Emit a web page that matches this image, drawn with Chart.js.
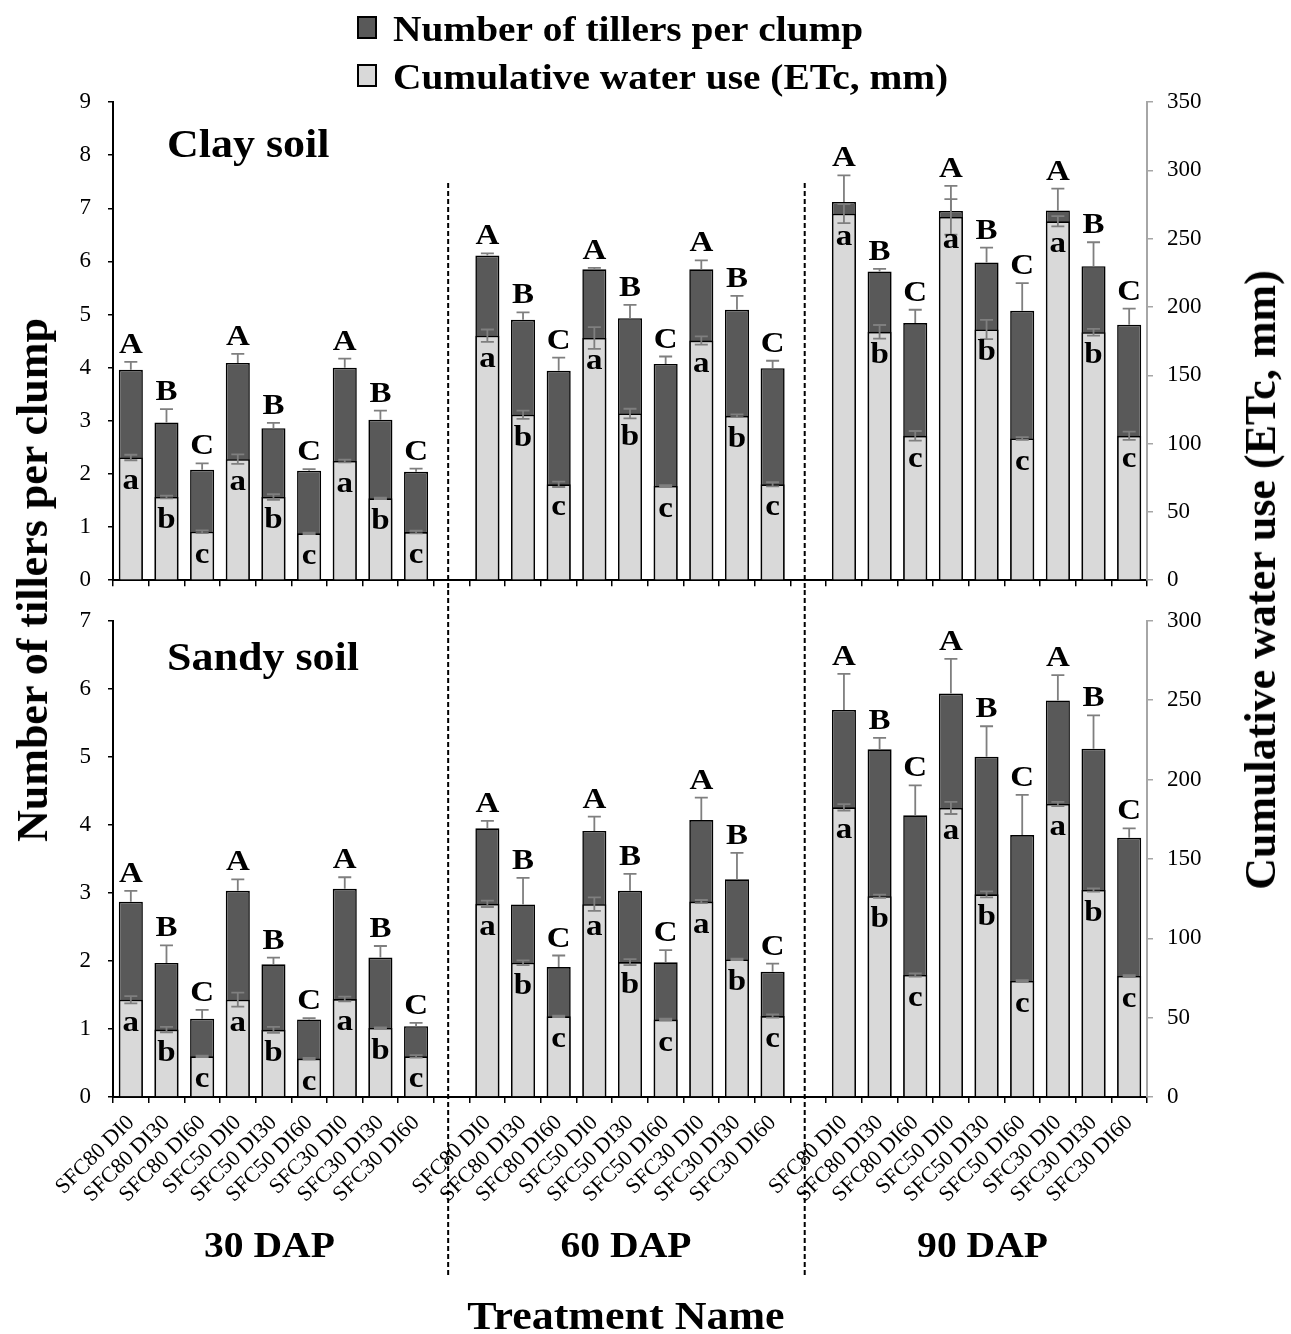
<!DOCTYPE html>
<html>
<head>
<meta charset="utf-8">
<script src="https://cdn.jsdelivr.net/npm/chart.js@4.4.1/dist/chart.umd.min.js"></script>
<style>
  html, body { margin: 0; padding: 0; background: #fff; }
  #wrap { position: relative; width: 1291px; height: 1334px; overflow: hidden; }
  canvas { position: absolute; left: 0; }
  .vt { position: absolute; white-space: nowrap; font-family: "Liberation Serif", "Times New Roman", serif;
        font-weight: bold; font-size: 44px; color: #000; transform: translate(-50%, -50%) rotate(-90deg); line-height: 1; }
</style>
</head>
<body>
<div id="wrap">
  <canvas id="botChart" width="1291" height="744" style="top:590px"></canvas>
  <canvas id="topChart" width="1291" height="611" style="top:0"></canvas>
  <div class="vt" style="left:33px; top:580px;">Number of tillers per clump</div>
  <div class="vt" style="left:1261px; top:580px;">Cumulative water use (ETc, mm)</div>
</div>
<script>
// ---------------- DATA ----------------
const treatments = ['SFC80 DI0','SFC80 DI30','SFC80 DI60','SFC50 DI0','SFC50 DI30','SFC50 DI60','SFC30 DI0','SFC30 DI30','SFC30 DI60'];
const stages = ['30 DAP','60 DAP','90 DAP'];
const tillerLetters = ['A','B','C','A','B','C','A','B','C'];
const waterLetters  = ['a','b','c','a','b','c','a','b','c'];

// Clay soil
const clayTillers30 = [3.96, 2.97, 2.08, 4.09, 2.86, 2.06, 4.00, 3.02, 2.04];
const clayTillers60 = [6.11, 4.90, 3.94, 5.85, 4.93, 4.07, 5.85, 5.09, 3.99];
const clayTillers90 = [7.12, 5.81, 4.84, 6.95, 5.98, 5.07, 6.96, 5.91, 4.81];
const clayTillersErr30 = [0.15, 0.25, 0.12, 0.17, 0.10, 0.03, 0.17, 0.17, 0.06];
const clayTillersErr60 = [0.04, 0.14, 0.25, 0.03, 0.25, 0.14, 0.17, 0.26, 0.14];
const clayTillersErr90 = [0.50, 0.05, 0.25, 0.47, 0.28, 0.52, 0.41, 0.45, 0.30];
const clayWater30 = [89.8, 60.9, 35.5, 88.6, 60.9, 34.3, 87.3, 59.9, 35.2];
const clayWater60 = [179.0, 121.1, 70.2, 177.3, 122.0, 69.0, 175.4, 120.3, 70.2];
const clayWater90 = [268.3, 181.8, 105.7, 265.9, 183.5, 103.7, 262.7, 181.5, 105.7];
const clayWaterErr30 = [2.0, 1.0, 1.0, 3.5, 2.0, 0.5, 1.0, 0.5, 1.0];
const clayWaterErr60 = [4.5, 3.0, 2.0, 8.0, 3.5, 0.5, 3.0, 1.0, 1.5];
const clayWaterErr90 = [7.0, 5.0, 3.5, 13.0, 7.0, 1.0, 3.7, 2.5, 3.0];

// Sandy soil
const sandyTillers30 = [2.87, 1.97, 1.15, 3.03, 1.95, 1.14, 3.06, 2.05, 1.04];
const sandyTillers60 = [3.95, 2.83, 1.91, 3.91, 3.03, 1.98, 4.07, 3.20, 1.84];
const sandyTillers90 = [5.69, 5.11, 4.14, 5.93, 5.00, 3.85, 5.83, 5.12, 3.81];
const sandyTillersErr30 = [0.16, 0.26, 0.13, 0.17, 0.10, 0.02, 0.17, 0.17, 0.05];
const sandyTillersErr60 = [0.11, 0.39, 0.17, 0.21, 0.25, 0.18, 0.33, 0.39, 0.12];
const sandyTillersErr90 = [0.53, 0.17, 0.44, 0.51, 0.45, 0.59, 0.37, 0.49, 0.14];
const sandyWater30 = [61.3, 42.5, 25.6, 61.3, 42.3, 24.2, 61.7, 43.5, 25.6];
const sandyWater60 = [121.7, 84.6, 50.8, 121.5, 85.0, 48.8, 123.1, 86.7, 51.0];
const sandyWater90 = [182.5, 126.5, 76.9, 182.1, 127.7, 73.1, 184.6, 130.4, 76.3];
const sandyWaterErr30 = [2.3, 1.7, 0.5, 4.4, 1.9, 0.5, 1.5, 0.3, 0.8];
const sandyWaterErr60 = [2.0, 1.5, 0.5, 4.2, 1.9, 0.5, 1.0, 0.5, 1.0];
const sandyWaterErr90 = [2.0, 1.0, 1.0, 3.8, 1.9, 0.5, 1.3, 1.0, 0.5];

// Axis ranges / ticks
const clayTillerAxis = { min: 0, max: 9, step: 1 };
const clayWaterAxis  = { min: 0, max: 350, step: 50 };
const sandyTillerAxis = { min: 0, max: 7, step: 1 };
const sandyWaterAxis  = { min: 0, max: 300, step: 50 };

// ---------------- BUILD ----------------
const join3 = (a, b, c) => [...a, null, ...b, null, ...c];
const categories = [...treatments, '', ...treatments, '', ...treatments];
const upperLetters = join3(tillerLetters, tillerLetters, tillerLetters);
const lowerLetters = join3(waterLetters, waterLetters, waterLetters);
const gapIndices = [9, 19];
const stageCenters = [4, 14, 24];

const SERIF = '"Liberation Serif", "Times New Roman", serif';
const DARK = '#595959', LIGHT = '#d9d9d9', ERRC = '#7f7f7f';

function stretchText(ctx, s, x, y, size, align, sx) {
  ctx.save();
  ctx.font = 'bold ' + size + 'px ' + SERIF;
  ctx.textAlign = align || 'left';
  ctx.textBaseline = 'alphabetic';
  ctx.fillStyle = '#000';
  ctx.translate(x, y);
  ctx.scale(sx || 1.1, 1);
  ctx.fillText(s, 0, 0);
  ctx.restore();
}

function panelPlugin(p) {
  return {
    id: 'panel' + p.key,
    afterDatasetDraw(chart, args) {
      const ds = chart.data.datasets[args.index];
      const meta = args.meta;
      const ys = chart.scales[meta.yAxisID];
      const ctx = chart.ctx;
      ctx.save();
      ctx.strokeStyle = ERRC;
      ctx.lineWidth = 1.8;
      meta.data.forEach((el, i) => {
        const v = ds.data[i];
        if (v == null) return;
        const e = ds.errs[i];
        const yTop = ys.getPixelForValue(v + e);
        const yBot = ds.errBoth ? ys.getPixelForValue(v - e) : el.y;
        ctx.beginPath();
        ctx.moveTo(el.x, yTop); ctx.lineTo(el.x, yBot);
        ctx.moveTo(el.x - 6.5, yTop); ctx.lineTo(el.x + 6.5, yTop);
        if (ds.errBoth) { ctx.moveTo(el.x - 6.5, yBot); ctx.lineTo(el.x + 6.5, yBot); }
        ctx.stroke();
      });
      ctx.restore();
    },
    afterDatasetsDraw(chart) {
      const ctx = chart.ctx;
      const light = chart.data.datasets[0], dark = chart.data.datasets[1];
      const mL = chart.getDatasetMeta(0), mD = chart.getDatasetMeta(1);
      const yD = chart.scales.y;
      mD.data.forEach((el, i) => {
        const v = dark.data[i];
        if (v == null) return;
        stretchText(ctx, upperLetters[i], el.x, yD.getPixelForValue(v + dark.errs[i]) - 9, 30, 'center', 1.1);
      });
      mL.data.forEach((el, i) => {
        const v = light.data[i];
        if (v == null) return;
        stretchText(ctx, lowerLetters[i], el.x, el.y + 31, 30, 'center', 1.1);
      });
    },
    afterDraw(chart) {
      const ctx = chart.ctx;
      const xs = chart.scales.x;
      const ca = chart.chartArea;
      // dashed separators
      ctx.save();
      ctx.strokeStyle = '#000';
      ctx.lineWidth = 2;
      ctx.setLineDash([5, 3]);
      gapIndices.forEach(g => {
        const x = xs.getPixelForValue(g - 0.1);
        ctx.beginPath();
        ctx.moveTo(x, p.dashTop);
        ctx.lineTo(x, p.dashBottom);
        ctx.stroke();
      });
      ctx.restore();
      // panel title
      stretchText(ctx, p.title, ca.left + 54, ca.top + p.titleDy, 40, 'left', 1.1);
      if (p.legend) {
        const rows = [
          { fill: DARK, text: 'Number of tillers per clump', base: 41 },
          { fill: LIGHT, text: 'Cumulative water use (ETc, mm)', base: 89 }
        ];
        rows.forEach(r => {
          ctx.save();
          ctx.fillStyle = r.fill;
          ctx.strokeStyle = '#000';
          ctx.lineWidth = 2;
          ctx.fillRect(358, r.base - 24, 18, 21);
          ctx.strokeRect(358, r.base - 24, 18, 21);
          ctx.restore();
          stretchText(ctx, r.text, 393, r.base, 35, 'left', 1.125);
        });
      }
      if (p.bottomLabels) {
        stageCenters.forEach((c, k) => {
          stretchText(ctx, stages[k], xs.getPixelForValue(c) - 4, 667, 36, 'center', 1.1);
        });
        stretchText(ctx, 'Treatment Name', (ca.left + ca.right) / 2 - 4, 739, 40, 'center', 1.1);
      }
    }
  };
}

function makeChart(id, p) {
  const ctx = document.getElementById(id);
  return new Chart(ctx, {
    type: 'bar',
    data: {
      labels: categories,
      datasets: [
        {
          label: 'Cumulative water use (ETc, mm)',
          data: p.water, errs: p.waterErr, errBoth: true,
          yAxisID: 'y2', order: 0, grouped: false,
          backgroundColor: LIGHT, borderColor: '#000', borderWidth: 1.6,
          barPercentage: 0.675, categoryPercentage: 1.0
        },
        {
          label: 'Number of tillers per clump',
          data: p.tillers, errs: p.tillersErr, errBoth: false,
          yAxisID: 'y', order: 1, grouped: false,
          backgroundColor: DARK, borderColor: '#000', borderWidth: 1.6,
          barPercentage: 0.675, categoryPercentage: 1.0
        }
      ]
    },
    options: {
      responsive: false,
      devicePixelRatio: 1,
      animation: false,
      events: [],
      layout: { padding: { top: p.padTop, left: 0, right: 0, bottom: 0 } },
      plugins: { legend: { display: false }, tooltip: { enabled: false }, title: { display: false } },
      scales: {
        x: {
          type: 'category',
          offset: true,
          grid: { offset: true, display: true, drawOnChartArea: false, drawTicks: true, tickLength: 6, color: '#000', lineWidth: 1.5 },
          border: { display: true, color: '#000', width: 2 },
          ticks: {
            display: p.showXLabels, autoSkip: false, minRotation: 45, maxRotation: 45, padding: 7,
            color: '#000', font: { family: SERIF, size: 22 }
          },
          afterFit(s) { s.height = p.xHeight; }
        },
        y: {
          position: 'left',
          min: p.tAxis.min, max: p.tAxis.max,
          grid: { drawOnChartArea: false, drawTicks: true, tickLength: 5, color: '#000', lineWidth: 1.5 },
          border: { display: true, color: '#000', width: 2 },
          ticks: { stepSize: p.tAxis.step, color: '#000', padding: 17, font: { family: SERIF, size: 23 } },
          afterFit(s) { s.width = 113; }
        },
        y2: {
          position: 'right',
          min: p.wAxis.min, max: p.wAxis.max,
          grid: { drawOnChartArea: false, drawTicks: true, tickLength: 6, color: '#a6a6a6', lineWidth: 1.5 },
          border: { display: true, color: '#a6a6a6', width: 2 },
          ticks: { stepSize: p.wAxis.step, color: '#000', padding: 14, font: { family: SERIF, size: 23 } },
          afterFit(s) { s.width = 144; }
        }
      }
    },
    plugins: [panelPlugin(p)]
  });
}

makeChart('topChart', {
  key: 'clay', title: 'Clay soil', titleDy: 55, legend: true, bottomLabels: false,
  tillers: join3(clayTillers30, clayTillers60, clayTillers90),
  tillersErr: join3(clayTillersErr30, clayTillersErr60, clayTillersErr90),
  water: join3(clayWater30, clayWater60, clayWater90),
  waterErr: join3(clayWaterErr30, clayWaterErr60, clayWaterErr90),
  tAxis: clayTillerAxis, wAxis: clayWaterAxis,
  padTop: 102, xHeight: 11, showXLabels: false,
  dashTop: 183, dashBottom: 590
});

makeChart('botChart', {
  key: 'sandy', title: 'Sandy soil', titleDy: 49, legend: false, bottomLabels: true,
  tillers: join3(sandyTillers30, sandyTillers60, sandyTillers90),
  tillersErr: join3(sandyTillersErr30, sandyTillersErr60, sandyTillersErr90),
  water: join3(sandyWater30, sandyWater60, sandyWater90),
  waterErr: join3(sandyWaterErr30, sandyWaterErr60, sandyWaterErr90),
  tAxis: sandyTillerAxis, wAxis: sandyWaterAxis,
  padTop: 27, xHeight: 237, showXLabels: true,
  dashTop: 0, dashBottom: 688
});
</script>
</body>
</html>
